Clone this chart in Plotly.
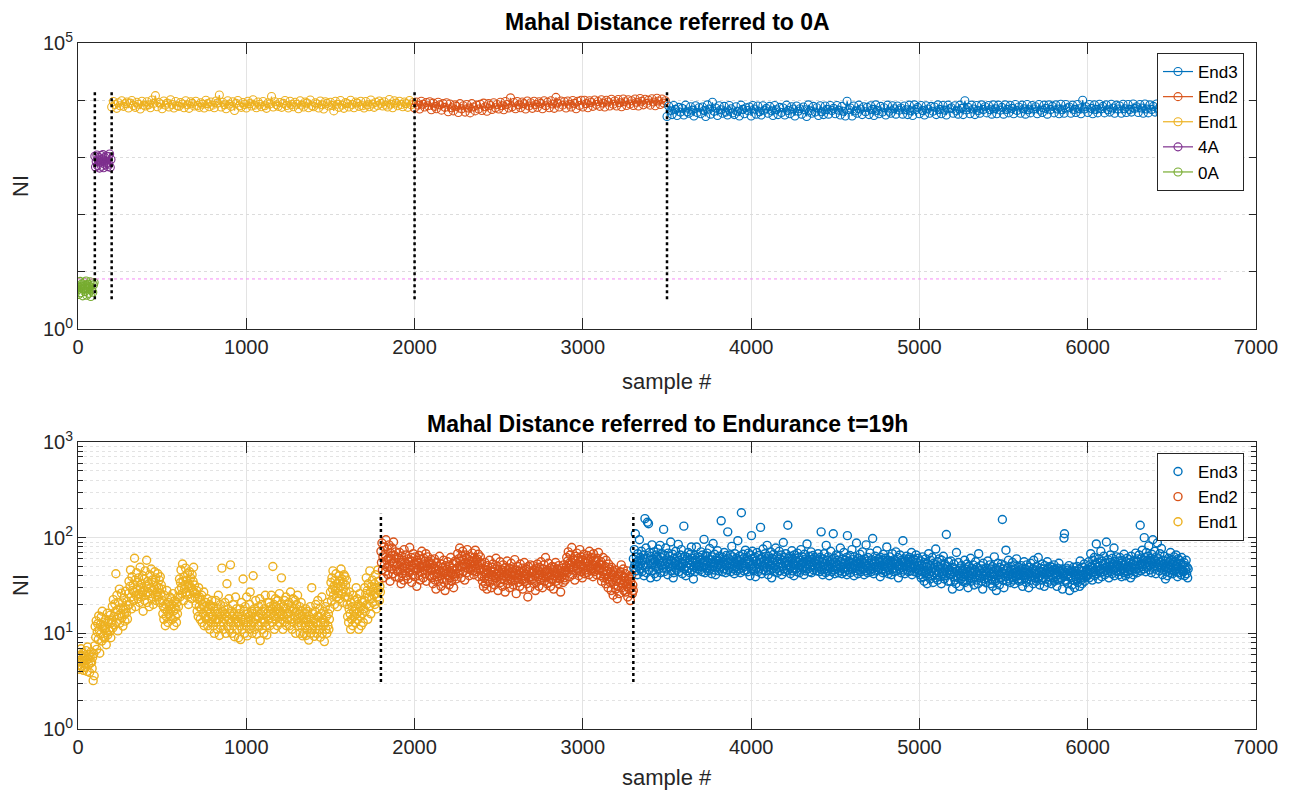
import plotly.graph_objects as go

# ---------------- data: top panel (referred to 0A) ----------------
top_0A_start, top_0A_step = 0, 4
top_0A = [6.5, 4.0, 5.3, 6.8, 4.3, 5.6, 6.2, 3.8, 5.0, 6.6, 4.5, 5.8, 6.9, 3.9, 5.1, 6.1, 4.2, 5.5, 6.7, 3.7,
          4.8, 6.4, 4.4, 5.9, 6.5]
top_4A_start, top_4A_step = 100, 4
top_4A = [1050, 680, 850, 1100, 720, 900, 1000, 650, 820, 1080, 700, 940, 1120, 660, 870, 990, 740, 1060, 800, 690,
          1030, 760, 1150, 670, 920]
top_end1_start, top_end1_step = 200, 10
top_end1 = [7600, 9500, 8400, 7200, 9000, 8000, 9800, 7800, 8700, 9300,
            7300, 8900, 9900, 8100, 7500, 9200, 8500, 7000, 9600, 8200,
            7900, 9400, 8300, 7400, 10100, 8800, 12000, 7700, 9100, 8600,
            7100, 9700, 8200, 8900, 7600, 10200, 8400, 7300, 9500, 8000,
            7800, 9100, 8600, 7400, 9800, 8300, 7200, 9400, 8800, 7900,
            9600, 8100, 7500, 9000, 8500, 7300, 10000, 8700, 7700, 9300,
            8200, 7400, 9700, 8900, 12300, 7600, 9200, 8300, 7100, 9800,
            8600, 7800, 9400, 6600, 8800, 9900, 8000, 7500, 9100, 8400,
            7300, 9600, 8700, 7900, 10200, 8200, 7400, 9300, 8500, 7700,
            9500, 8000, 7200, 9000, 8600, 11600, 7600, 9400, 8300, 7800,
            9100, 7500, 8800, 9900, 8100, 7300, 9600, 8400, 7700, 9200,
            8500, 7100, 9800, 8200, 7600, 9300, 8900, 7400, 10100, 8000,
            7700, 9000, 8600, 7300, 9700, 8300, 7000, 9400, 8800, 7900,
            9200, 8100, 6500, 9600, 8500, 7500, 9900, 8200, 7200, 9100,
            8700, 7600, 10000, 8400, 7400, 9300, 8900, 7800, 9600, 8000,
            7300, 9500, 8300, 7700, 10100, 8600, 7500, 9200, 8100, 9700,
            8800, 7900, 9400, 8200, 7600, 10300, 8500, 7400, 9800, 8900,
            8000, 9600, 8400, 7700, 9300, 8700, 7500, 9900, 8300, 9100]
top_end2_start, top_end2_step = 2000, 10
top_end2 = [7300, 9300, 8200, 7000, 9600, 8500, 7600, 9100, 8000, 9400,
            6800, 8900, 7800, 7100, 9200, 8300, 6700, 8700, 7500, 9000,
            6300, 8600, 7400, 6500, 8300, 7800, 6100, 8700, 7100, 8000,
            6200, 8400, 7300, 6000, 8700, 7600, 6500, 8200, 7000, 8500,
            6600, 8900, 7700, 6400, 8700, 8100, 6900, 9000, 7400, 8400,
            7000, 9200, 8000, 6800, 9500, 8400, 7300, 11000, 7700, 9100,
            7100, 9500, 8300, 7400, 9300, 8700, 7000, 9700, 7900, 9000,
            7200, 9600, 8400, 7500, 9400, 8800, 7100, 9800, 8000, 9200,
            7400, 9800, 8600, 7200, 11200, 8900, 7600, 9700, 8200, 9400,
            7300, 9700, 8500, 7600, 9900, 8800, 7100, 9600, 8100, 10000,
            7600, 10000, 8700, 7400, 9800, 9100, 7800, 10100, 8400, 9500,
            7800, 10200, 8900, 7600, 10000, 9300, 7900, 10400, 8500, 9700,
            7900, 10300, 9000, 7700, 10500, 9400, 8100, 10200, 8600, 9800,
            8100, 10500, 9200, 7900, 10700, 9600, 8300, 10400, 8800, 10000,
            8200, 10600, 9300, 8000, 10800, 9700, 8400, 10500, 8900, 9800]
top_end3_start, top_end3_step = 3500, 10
top_end3 = [5200, 7900, 6500, 5600, 8100, 6900, 5400, 7500, 6200, 7200,
            5500, 8200, 6300, 5900, 7700, 6700, 5300, 8000, 6100, 7400,
            5800, 7600, 6600, 5200, 8300, 7000, 5700, 9200, 6400, 7300,
            5400, 8000, 6800, 5900, 7800, 6200, 5500, 8100, 7100, 6000,
            5600, 7700, 6400, 5300, 8200, 6900, 5800, 7400, 6600, 7600,
            5300, 8100, 7000, 5700, 7900, 6300, 5500, 8000, 6700, 7200,
            5900, 7800, 6500, 5400, 8100, 6800, 5600, 7500, 6100, 7300,
            5500, 8200, 6600, 5800, 7700, 7000, 5300, 7900, 6400, 7100,
            5700, 7600, 6800, 5200, 8300, 6500, 5900, 7800, 6200, 7400,
            5400, 8000, 6300, 5600, 7900, 6900, 5700, 8100, 6600, 7200,
            5800, 8100, 6700, 5500, 7800, 6400, 5300, 9600, 6800, 7300,
            5300, 7900, 6500, 5900, 8200, 7000, 5600, 7700, 6300, 7500,
            5600, 8000, 6900, 5400, 8300, 6600, 5800, 7800, 6200, 7400,
            5500, 8200, 6400, 5900, 8000, 7100, 5700, 7900, 6700, 7300,
            5700, 7900, 6800, 5600, 8200, 6500, 5400, 8300, 6900, 7500,
            5800, 8100, 6600, 5500, 8000, 7000, 5900, 7800, 6400, 7600,
            5600, 8300, 6900, 5800, 8100, 6700, 5500, 8200, 7100, 7400,
            5900, 8000, 6500, 5700, 8200, 7200, 5600, 9800, 6800, 7500,
            5800, 8200, 7000, 5600, 8100, 6600, 5900, 8300, 6900, 7700,
            6000, 8100, 6800, 5700, 8300, 7100, 5800, 8200, 6700, 7500,
            5700, 8300, 6900, 6000, 8100, 7200, 5800, 8400, 6600, 7600,
            5900, 8200, 7100, 5700, 8400, 6800, 6000, 8100, 7000, 7700,
            5800, 8400, 6700, 6100, 8200, 7200, 5700, 8300, 6900, 7800,
            6000, 8300, 7000, 5800, 8500, 6800, 5900, 8400, 7300, 7600,
            5900, 8200, 6900, 6100, 8400, 7100, 5800, 10000, 7000, 7700,
            6100, 8400, 7200, 5800, 8300, 6900, 6000, 8500, 7100, 7800,
            6000, 8300, 6800, 6200, 8500, 7300, 5900, 8200, 7000, 7900,
            5900, 8500, 7100, 6100, 8400, 6900, 6200, 8600, 7200, 7700,
            6100, 8400, 7300, 5900, 8600, 7000, 6000, 8300, 6900, 7800,
            6200, 8600, 7000, 6000, 8400, 7200, 5900, 8500, 7100, 7900,
            6100, 8400, 6900, 6200, 8500, 7300, 6000, 8600, 7000, 7800]
top_boundaries = [100, 200, 2000, 3500]
top_boundary_span = [3.3, 13800]
top_threshold = 7.5
top_threshold_span = [0, 6800]

# ---------------- data: bottom panel (referred to Endurance t=19h) ----------------
bot_step = 3
bot_end1_start = 0
bot_end1 = [5.6, 4.6, 6.3, 5.0, 4.2, 5.9, 6.9, 5.3, 4.5, 5.1, 6.2, 4.1, 5.5, 4.8, 5.8, 4.4, 6.6, 5.2, 4.0, 7.2,
            5.4, 4.7, 6.0, 3.9, 5.7, 4.9, 6.4, 5.0, 4.3, 5.6, 3.2, 6.1, 3.6,
            7.4, 11.8, 9.1, 13.5, 6.8, 10.4, 12.6, 8.6, 15.2, 10.9, 6.2, 12.3, 9.8, 14.8, 8.3, 17.0, 11.4, 9.3, 13.1, 12.0,
            8.9, 11.2, 14.0, 7.6, 10.1, 16.2, 9.6, 12.7, 11.0, 13.8, 10.5, 15.5, 9.0, 12.9,
            13.8, 19.2, 11.4, 22.5, 15.0, 12.2, 20.3, 16.8, 42, 13.0, 25.0, 17.6, 10.6, 21.0, 15.4, 29.0, 12.8, 18.4, 16.1, 26.3,
            14.6, 20.8, 11.9, 17.8, 23.4, 15.7, 13.4, 27.5, 18.0, 16.3, 21.5, 14.1, 19.5,
            26, 35, 20, 31, 46, 24, 18, 39, 28, 32, 22, 27, 61, 36, 19, 25, 43, 29, 34, 23,
            38, 26, 21, 49, 30, 24, 33, 27, 40, 17, 28, 37, 22, 45, 25, 31, 58, 21, 35, 27,
            33, 19, 41, 26, 30, 47, 23, 36, 28, 20, 34, 29, 44, 25, 38, 22, 31, 27, 42, 24,
            30, 36, 21, 39, 26, 32, 29,
            22, 16, 19, 14, 25, 18, 12, 20, 15, 28, 17, 13, 21, 16, 19, 24, 15, 18, 23, 20,
            14, 26, 17, 12, 19, 22, 15, 18, 13, 21, 16, 24, 19,
            28, 37, 24, 34, 46, 30, 26, 53, 35, 22, 39, 29, 32, 48, 27, 36, 25, 42, 31, 20,
            33, 44, 26, 38, 30, 23, 41, 28, 35, 49, 27, 32, 24,
            26, 20, 28, 17, 23, 15, 30, 19, 24, 14, 22, 18, 25, 13, 20, 16, 27, 12, 19, 15,
            21, 14, 17, 23, 12, 18, 15, 20, 11, 16, 19, 13, 22, 14,
            15, 12, 19, 10, 17, 14, 22, 13, 16, 11, 18, 25, 14, 9.5, 16, 20, 12, 15, 48, 17,
            13, 11, 19, 14, 21, 16, 10, 15, 33, 12, 18, 14, 23, 11, 16, 52, 13, 17, 10, 15,
            20, 12, 16, 9.2, 14, 24, 13, 18, 11, 15, 13, 9, 16, 12, 18, 8.6, 14, 21, 11, 15,
            37, 13, 17, 10, 19, 14, 12, 24, 9.4, 16, 13, 15, 11, 20, 27, 14, 12, 17, 10, 16,
            40, 13, 18, 11, 15, 22, 14, 9.8, 17, 12, 15, 19, 12, 23, 8.4, 16, 13, 20, 11, 17,
            14, 10, 18, 13, 25, 12, 16, 9.6, 15, 21, 17, 14, 21, 12, 19, 16, 25, 13, 18, 50,
            15, 20, 11, 17, 23, 14, 19, 16, 12, 22, 18, 15, 26, 13, 17, 20, 38, 14, 16, 11,
            19, 15, 22, 13, 18, 24, 12, 16, 14, 20, 16, 21, 12, 18, 27, 14, 19, 11, 17, 23,
            13, 18, 15, 22, 10, 17, 20, 14, 25, 12, 16, 13, 19, 10, 15, 21, 12, 17, 9.4, 14,
            13, 10, 16, 12, 18, 9.5, 14, 11, 17, 13, 8.5, 15, 12, 19, 10, 14, 30, 11, 16, 12,
            14, 9.3, 17, 11, 20, 13, 10, 15, 22, 12, 15, 11, 18, 9.1, 13, 16, 24, 10, 14, 12,
            17, 8.2, 13, 19, 11, 15, 10, 21, 12, 16, 11, 14, 18,
            27, 34, 22, 38, 29, 45, 25, 31, 20, 36, 28, 42, 24, 33, 19, 30, 26, 40, 23, 35,
            31, 47, 26, 37, 21, 33, 29, 41, 24, 39, 32, 27, 36,
            20, 15, 24, 13, 18, 27, 16, 11, 21, 14, 19, 12, 25, 17, 15, 22, 13, 18, 30, 16,
            23, 14, 20, 11, 17, 26, 15, 19, 12, 22, 16, 21, 13, 18,
            22, 30, 17, 26, 38, 20, 28, 14, 33, 24, 19, 45, 27, 16, 31, 23, 36, 21, 29, 25,
            33, 20, 41, 26, 18, 30, 24, 46, 28, 35, 22, 31, 27]
bot_end2_start = 1800
bot_end2 = [72, 55, 88, 46, 63, 38, 80, 52, 67, 44, 95, 58, 49, 76, 41, 61, 84, 53, 35, 69,
            60, 47, 78, 54, 42, 90, 56, 65, 39, 71, 50, 62, 45,
            52, 44, 61, 38, 70, 47, 55, 33, 64, 49, 42, 58, 36, 75, 51, 45, 66, 40, 53, 48,
            60, 37, 56, 43, 79, 50, 46, 62, 34, 57, 41, 68, 48, 54, 39, 63, 45, 52, 31, 58,
            47, 55, 40, 65, 50, 36, 59, 44, 72, 49, 53, 38, 61, 46, 57, 42, 68, 35, 51, 45,
            63, 48, 56, 40, 54, 46, 59,
            45, 38, 52, 33, 48, 41, 60, 36, 47, 29, 55, 42, 39, 50, 35, 46, 64, 40, 44, 31,
            53, 37, 49, 43, 58, 34, 45, 28, 51, 41, 47, 36, 56, 40, 44, 32, 50, 38, 62, 43,
            35, 48, 41, 54, 30, 46, 39, 57, 42, 37,
            55, 47, 68, 42, 60, 51, 78, 45, 57, 38, 64, 50, 72, 44, 58, 53, 36, 66, 49, 61,
            43, 75, 54, 47, 59, 40, 63, 52, 46, 57, 50, 69, 45, 56, 41, 62, 53, 74, 48, 58,
            44, 60, 51, 67, 39, 55, 48, 63, 46, 54,
            40, 35, 48, 31, 44, 38, 55, 33, 42, 46, 29, 51, 37, 43, 39, 58, 34, 45, 41, 30,
            49, 36, 53, 40, 44, 32, 47, 38, 61, 42, 35, 50, 28, 45, 39, 43, 56, 34, 41, 37,
            46, 31, 52, 40, 36, 44, 27, 49, 38, 42, 57, 33, 45, 39, 48, 30, 43, 37, 54, 41,
            35, 47, 32, 44, 40, 59, 36, 42, 26, 46, 38, 50, 34, 41, 45, 31, 53, 39, 43, 36,
            48, 29, 44, 40, 55, 35, 42, 37, 47, 33, 41, 24, 50, 38, 45, 30, 52, 39, 36, 43,
            44, 37, 51, 33, 46, 40, 28, 48, 42, 35, 53, 39, 45, 31, 49, 41, 36, 56, 43, 38,
            30, 47, 40, 52, 35, 44, 62, 38, 42, 33, 46, 39, 54, 34, 43, 48, 31, 41, 37, 50,
            36, 45, 29, 49, 40, 44, 55, 35, 42, 38, 47, 33, 51, 40, 37, 45, 27, 43, 39, 48,
            41, 34, 52, 38, 44, 36, 46,
            50, 62, 43, 57, 71, 48, 54, 39, 66, 52, 46, 79, 55, 41, 60, 49, 58, 36, 64, 51,
            45, 69, 53, 47, 61, 40, 56, 75, 50, 44, 63, 52, 38, 58, 48, 67, 42, 55, 60, 46,
            54, 43, 65, 50, 57, 41, 72, 49, 59, 47, 62, 45, 53, 39, 68, 51, 44, 58, 48, 56,
            41, 61, 50, 46, 70, 53, 47,
            48, 40, 56, 35, 52, 44, 62, 38, 46, 41, 50, 33, 58, 42, 37, 45, 30, 53, 39, 47,
            34, 43, 28, 49, 36, 41, 25, 44, 32, 38, 46, 29, 35, 40, 23, 37, 31, 42, 26, 34,
            44, 36, 52, 30, 40, 33, 47, 28, 38, 35, 42, 27, 36, 31, 45, 24, 33, 39, 29, 37,
            22, 35, 30, 41, 26, 32, 28]
bot_end3_start = 3300
bot_end3 = [60, 48, 75, 52, 110, 45, 63, 56, 41, 68, 50, 58, 95, 47, 62, 54, 72, 44, 57, 51,
            66, 40, 59, 158, 49, 78, 43, 61, 145, 53, 140, 46, 70, 58, 38, 64, 52, 84, 45, 60,
            55, 71, 42, 57, 49, 66, 39, 62, 53, 76, 47, 59, 54, 83, 43, 62, 51, 68, 48, 56,
            122, 44, 65, 52, 78, 47, 60, 55, 41, 69, 53, 49, 64, 58, 90, 45, 57, 50, 67, 38,
            43, 61, 54, 48, 72, 56, 46, 63, 52, 85, 44, 58, 51, 66, 49, 75, 55, 42, 60, 53,
            132, 47, 64, 57, 40, 50, 45, 62, 54, 70, 48, 59, 43, 67, 52, 80, 46, 56, 61, 37,
            49, 65, 44, 58, 51, 80, 55, 47, 63, 50, 53, 62, 46, 58, 71, 50, 44, 66, 55, 49,
            96, 57, 43, 64, 52, 48, 69, 56, 45, 60, 51, 77, 47, 59, 54, 42, 63, 50, 87, 55,
            46, 67, 53, 41, 58, 61, 49, 73, 52, 45, 57, 64, 48, 54, 150, 50, 44, 62, 56, 47,
            70, 53, 59, 43, 65, 51, 46, 115, 55, 60, 48, 52, 66, 44, 57, 81, 50, 63, 47, 55,
            42, 68, 54, 49, 61, 45, 58, 93, 52, 47, 64, 56, 43, 59, 182, 51, 48, 67, 54, 45,
            62, 50, 74, 57, 46, 60, 53, 44, 69, 55, 58, 40, 66, 51, 105, 47, 72, 53, 45, 61,
            50, 63, 39, 57, 48, 70, 54, 44, 65, 52, 47, 59, 128, 55, 42, 62, 51, 76, 46, 58,
            53, 68, 45, 60, 49, 83, 56, 41, 64, 50, 57, 46, 71, 52, 38, 61, 55, 48, 67, 44,
            59, 51, 78, 47, 56, 43, 63, 54, 49, 72, 45, 60, 53, 66, 41, 58, 50, 89, 47, 62,
            55, 44, 68, 51, 57, 46, 135, 52, 61, 48, 64, 42, 56, 50, 73, 45, 59, 53, 40, 66,
            52, 61, 47, 57, 44, 69, 55, 49, 62, 43, 58, 51, 75, 46, 54, 63, 48, 56, 41, 67,
            50, 45, 60, 53, 86, 47, 58, 52, 64, 44, 56, 49, 71, 43, 59, 51, 65, 46, 55, 62,
            48, 57, 53, 45, 60, 50, 68,
            49, 57, 44, 62, 50, 115, 46, 55, 41, 60, 52, 68, 47, 54, 43, 83, 50, 58, 45, 63,
            51, 40, 56, 48, 72, 53, 44, 59, 49, 110, 46, 61, 42, 55, 50, 66, 47, 53, 58, 43,
            64, 51, 45, 78, 49, 56, 42, 60, 52, 47, 70, 54, 44, 58, 48, 62, 41, 105, 53, 46,
            57, 50, 65, 43, 55, 49, 75, 47, 59, 52, 40, 63, 51, 45, 56, 88, 48, 54, 42, 61,
            50, 46, 67, 53, 44, 58, 49, 71, 47, 55, 41, 60, 52, 45, 84, 50, 57, 43, 62, 48,
            54, 46, 69, 51, 44, 59, 47, 98, 53, 42, 56, 50, 64, 45, 57, 49, 73, 52, 46, 60,
            48, 55, 39, 62, 51, 46, 58, 43, 67, 50, 53, 47, 61, 44, 56, 80, 49, 58, 42, 54,
            46, 63, 51, 57, 41, 52, 68, 47, 55, 44, 59, 48, 53, 71, 45, 56, 50, 62, 38, 51,
            47, 66, 52, 43, 58, 49, 55, 93, 46, 60, 50, 42, 57, 54, 64, 46, 51, 59, 44, 56,
            62, 49, 45, 53, 70, 41, 57, 48, 60, 52, 44, 58, 50, 66, 47, 55, 43, 61, 51, 46,
            48, 41, 57, 38, 52, 44, 63, 39, 50, 35, 55, 43, 60, 40, 49, 33, 53, 46, 68, 42,
            51, 37, 58, 44, 40, 62, 47, 34, 54, 43, 49, 38, 76, 45, 41, 56, 36, 50, 43, 60,
            47, 39, 52, 33, 58, 44, 42, 64, 48, 37, 53, 46, 40, 108, 43, 50, 35, 56, 45, 41,
            46, 35, 57, 41, 44, 29, 49, 39, 53, 43, 36, 47, 33, 70, 40, 45, 38, 55, 42, 31,
            48, 40, 37, 51, 44, 35, 46, 39, 42, 58, 34, 47, 41, 36, 53, 43, 30, 50, 38, 45,
            40, 61, 35, 48, 42, 37, 52, 44, 32, 46, 39, 56, 41, 36, 49, 43, 33, 68, 40, 45,
            38, 51, 42, 35, 47, 29, 54, 40, 44, 37, 41, 34, 48, 43, 38, 57, 36, 45, 40, 52,
            33, 47, 42, 36, 50, 31, 44, 39, 63, 41, 35, 48, 28, 46, 40, 54, 37, 43, 32, 49,
            41, 38, 53, 44, 155, 36, 47, 30, 51, 42, 39, 74, 45, 35, 48, 40, 58, 37, 44, 41,
            34, 50, 46, 38, 55, 42, 36, 47, 33, 52, 43, 39, 60, 41, 45, 37, 49, 40, 35, 46,
            42, 51, 36, 44, 31, 48, 40, 56, 38, 43, 47, 34, 52, 41, 37, 45, 30, 49, 42, 39,
            54, 36, 43, 40, 47, 33, 58, 44, 38, 46, 41, 35, 50, 43, 37, 62, 39, 45, 32, 48,
            40, 44, 36, 53, 42, 38, 47, 31, 51, 43, 37, 45, 41, 56, 34, 48, 39, 43, 36, 50,
            44, 33, 49, 40, 46, 38, 52, 35, 42, 47, 39, 43, 31, 48, 41, 36, 54, 44, 37, 45,
            42, 38, 47, 29, 45, 40, 99, 110, 36, 43, 35, 48, 41, 33, 46, 39, 51, 28, 44, 40,
            38, 46, 32, 43, 36, 49, 41, 30, 45, 39, 44, 37, 50, 34, 42, 40, 47, 31, 57, 38,
            36, 45, 33, 49, 41, 38, 53, 35, 43, 40, 46, 39, 44,
            47, 41, 56, 38, 52, 45, 68, 43, 50, 36, 58, 48, 44, 62, 40, 53, 46, 86, 42, 55,
            49, 37, 60, 45, 51, 43, 72, 47, 39, 57, 52, 44, 64, 48, 41, 54, 46, 90, 50, 43,
            59, 47, 38, 55, 51, 66, 44, 49, 42, 61, 53, 46, 78, 40, 56, 48, 45, 63, 50, 52,
            44, 57, 41, 49, 62, 46, 54, 39, 58, 47, 51, 43, 67, 45, 53, 40, 56, 48, 61, 44,
            50, 42, 59, 46, 55, 38, 64, 49, 45, 53, 41, 57, 48, 52, 44, 69, 47, 56, 43, 60,
            56, 48, 66, 52, 135, 45, 60, 54, 74, 50, 58, 47, 100, 62, 53, 44, 70, 57, 49, 64,
            55, 82, 51, 46, 61, 58, 43, 67, 53, 95, 50, 59, 47, 72, 56, 42, 63, 54, 88, 49,
            60, 52, 45, 68, 55, 48, 77, 51, 41, 58, 53, 46, 64, 50, 37, 57, 44, 52, 40, 47,
            61, 49, 56, 43, 70, 52, 46, 59, 42, 55, 48, 63, 45, 57, 51, 66, 44, 53, 39, 60,
            50, 43, 58, 47, 54, 41, 62, 46, 52, 45, 44, 55, 40, 51, 46, 58, 42, 49, 38, 47]
bot_boundaries = [1800, 3300]
bot_boundary_span = [3.1, 178]

x_ticks = [0, 1000, 2000, 3000, 4000, 5000, 6000, 7000]
top_yticks = [1, 10, 100, 1000, 10000, 100000]
top_yticktext = ["10<sup>0</sup>", "", "", "", "", "10<sup>5</sup>"]
bot_yticks = [1, 10, 100, 1000]
bot_yticktext = ["10<sup>0</sup>", "10<sup>1</sup>", "10<sup>2</sup>", "10<sup>3</sup>"]
bot_minor = [m * d for d in (1, 10, 100) for m in range(2, 10)]

COL = {"End3": "#0072BD", "End2": "#D95319", "End1": "#EDB120", "4A": "#7E2F8E", "0A": "#77AC30"}


def xs(start, step, vals):
    return [start + step * i for i in range(len(vals))]


FONT = "Liberation Sans, Arial, Helvetica, sans-serif"
fig = go.Figure()

# top panel series (drawn 0A first, End3 last; legend reversed)
top_series = [("0A", top_0A_start, top_0A_step, top_0A),
              ("4A", top_4A_start, top_4A_step, top_4A),
              ("End1", top_end1_start, top_end1_step, top_end1),
              ("End2", top_end2_start, top_end2_step, top_end2),
              ("End3", top_end3_start, top_end3_step, top_end3)]
for name, s, st, v in top_series:
    fig.add_trace(go.Scatter(x=xs(s, st, v), y=v, name=name, mode="lines+markers",
                             line=dict(color=COL[name], width=1.2, simplify=False),
                             marker=dict(symbol="circle-open", size=8, color=COL[name], line=dict(width=1.1)),
                             xaxis="x", yaxis="y", legend="legend"))

fig.add_trace(go.Scatter(x=top_threshold_span, y=[top_threshold, top_threshold], mode="lines",
                         line=dict(color="#F58CF5", width=1, dash="dot"), showlegend=False,
                         xaxis="x", yaxis="y", hoverinfo="skip"))
for b in top_boundaries:
    fig.add_trace(go.Scatter(x=[b, b], y=top_boundary_span, mode="lines",
                             line=dict(color="black", width=2.5, dash="dot"), showlegend=False,
                             xaxis="x", yaxis="y", hoverinfo="skip"))

# bottom panel series
bot_series = [("End1", bot_end1_start, bot_end1),
              ("End2", bot_end2_start, bot_end2),
              ("End3", bot_end3_start, bot_end3)]
for name, s, v in bot_series:
    fig.add_trace(go.Scatter(x=xs(s, bot_step, v), y=v, name=name, mode="markers",
                             marker=dict(symbol="circle-open", size=8, color=COL[name], line=dict(width=1.4)),
                             xaxis="x2", yaxis="y2", legend="legend2"))
for b in bot_boundaries:
    fig.add_trace(go.Scatter(x=[b, b], y=bot_boundary_span, mode="lines",
                             line=dict(color="black", width=2.5, dash="dot"), showlegend=False,
                             xaxis="x2", yaxis="y2", hoverinfo="skip"))

W, H = 1289, 791
xdom = [78 / W, 1256 / W]
top_dom = [(H - 329) / H, (H - 43) / H]
bot_dom = [(H - 729) / H, (H - 442) / H]

axis_common = dict(showline=True, linecolor="#262626", linewidth=1, mirror="ticks",
                   ticks="inside", tickcolor="#262626", zeroline=False, automargin=False,
                   tickfont=dict(family=FONT, size=20, color="#262626"))

xaxis_base = dict(axis_common, range=[0, 7000], tickvals=x_ticks, ticklen=11,
                  showgrid=True, gridcolor="#e3e3e3", gridwidth=1, domain=xdom)

legend_common = dict(xanchor="right", yanchor="top", bgcolor="white", bordercolor="#262626", borderwidth=1,
                     font=dict(family=FONT, size=17, color="black"), traceorder="reversed",
                     tracegroupgap=0, itemsizing="trace")

fig.update_layout(
    width=W, height=H, autosize=False,
    margin=dict(l=0, r=0, t=0, b=0, autoexpand=False),
    paper_bgcolor="white", plot_bgcolor="white",
    showlegend=True,
    xaxis=dict(xaxis_base, anchor="y"),
    yaxis=dict(axis_common, type="log", range=[0, 5], tickvals=top_yticks, ticktext=top_yticktext,
               ticklen=7, showgrid=True, gridcolor="#dcdcdc", griddash="dot", gridwidth=1,
               domain=top_dom, anchor="x"),
    xaxis2=dict(xaxis_base, anchor="y2"),
    yaxis2=dict(axis_common, type="log", range=[0, 3], tickvals=bot_yticks, ticktext=bot_yticktext,
                ticklen=8, showgrid=True, gridcolor="#e3e3e3", gridwidth=1,
                minor=dict(tickmode="array", tickvals=bot_minor, ticks="inside", ticklen=5,
                           tickcolor="#262626", showgrid=True, gridcolor="#e3e3e3", griddash="dot"),
                domain=bot_dom, anchor="x2"),
    legend=dict(legend_common, x=1244 / W, y=(H - 53) / H),
    legend2=dict(legend_common, x=1244 / W, y=(H - 453) / H),
    annotations=[
        dict(text="<b>Mahal Distance referred to 0A</b>", x=667 / W, y=(H - 22) / H, xref="paper", yref="paper",
             showarrow=False, font=dict(family=FONT, size=23, color="black"), xanchor="center", yanchor="middle"),
        dict(text="<b>Mahal Distance referred to Endurance t=19h</b>", x=667 / W, y=(H - 424) / H, xref="paper",
             yref="paper", showarrow=False, font=dict(family=FONT, size=23, color="black"),
             xanchor="center", yanchor="middle"),
        dict(text="sample #", x=667 / W, y=(H - 381) / H, xref="paper", yref="paper", showarrow=False,
             font=dict(family=FONT, size=22, color="#262626"), xanchor="center", yanchor="middle"),
        dict(text="sample #", x=667 / W, y=(H - 777) / H, xref="paper", yref="paper", showarrow=False,
             font=dict(family=FONT, size=22, color="#262626"), xanchor="center", yanchor="middle"),
        dict(text="NI", x=20 / W, y=(H - 186) / H, xref="paper", yref="paper", showarrow=False, textangle=-90,
             font=dict(family=FONT, size=22, color="#262626"), xanchor="center", yanchor="middle"),
        dict(text="NI", x=20 / W, y=(H - 585) / H, xref="paper", yref="paper", showarrow=False, textangle=-90,
             font=dict(family=FONT, size=22, color="#262626"), xanchor="center", yanchor="middle"),
    ],
)

fig.write_html("out.html")
